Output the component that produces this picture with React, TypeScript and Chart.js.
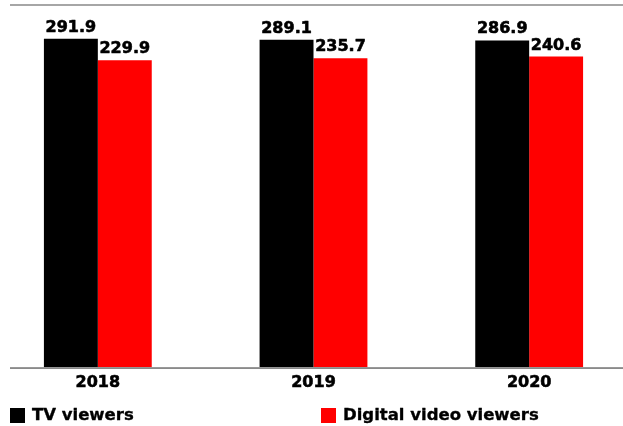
import React, { useEffect, useRef } from "react";
import { Chart, registerables } from "chart.js";

Chart.register(...registerables);

const categories = ["2018", "2019", "2020"];
const seriesNames = ["TV viewers", "Digital video viewers"];
const tvViewers = [291.9, 289.1, 286.9];
const digitalViewers = [229.9, 235.7, 240.6];
const seriesColors = ["#000000", "#ff0000"];

const Y_MIN = -651.6;
const Y_MAX = 345.5;
const FONT = "'DejaVu Sans', sans-serif";
const SHIFT = 10; // canvas starts 10px left of the page edge

const decorPlugin = {
  id: "decor",
  afterDatasetsDraw(chart: any) {
    const { ctx, chartArea } = chart;
    ctx.save();
    // data labels
    ctx.font = `bold 16px ${FONT}`;
    ctx.fillStyle = "#000";
    ctx.strokeStyle = "#000";
    ctx.lineWidth = 0.6;
    ctx.lineJoin = "round";
    ctx.textAlign = "center";
    ctx.textBaseline = "alphabetic";
    chart.data.datasets.forEach((ds: any, i: number) => {
      const meta = chart.getDatasetMeta(i);
      meta.data.forEach((el: any, j: number) => {
        const t = String(ds.data[j].toFixed(1));
        ctx.fillText(t, el.x, el.y - 7);
        ctx.strokeText(t, el.x, el.y - 7);
      });
    });
    // baseline
    ctx.fillStyle = "#6e6e6e";
    ctx.fillRect(SHIFT + 10, chartArea.bottom, chart.width, 1.5);
    // top rule
    ctx.fillStyle = "#a6a6a6";
    ctx.fillRect(SHIFT + 10, 4, chart.width, 2);
    // legend
    const legendX = [10, 321];
    ctx.lineWidth = 0.35;
    chart.data.datasets.forEach((ds: any, i: number) => {
      const x = legendX[i] + SHIFT;
      ctx.fillStyle = ds.backgroundColor;
      ctx.fillRect(x, 408, 15, 15);
      ctx.fillStyle = "#000";
      ctx.font = `bold 16.5px ${FONT}`;
      ctx.textAlign = "left";
      ctx.textBaseline = "middle";
      ctx.fillText(ds.label, x + 22, 416);
      ctx.strokeText(ds.label, x + 22, 416);
    });
    ctx.restore();
  },
};

export default function App() {
  const ref = useRef<HTMLCanvasElement | null>(null);
  useEffect(() => {
    if (!ref.current) return;
    const chart = new Chart(ref.current, {
      type: "bar",
      data: {
        labels: categories,
        datasets: [
          {
            label: seriesNames[0],
            data: tvViewers,
            backgroundColor: seriesColors[0],
            base: Y_MIN,
            categoryPercentage: 0.5,
            barPercentage: 1,
          } as any,
          {
            label: seriesNames[1],
            data: digitalViewers,
            backgroundColor: seriesColors[1],
            base: Y_MIN,
            categoryPercentage: 0.5,
            barPercentage: 1,
          } as any,
        ],
      },
      options: {
        responsive: false,
        animation: false,
        devicePixelRatio: 1,
        layout: { padding: { left: 0, right: 0, top: 20, bottom: 27.5 } },
        plugins: {
          legend: { display: false },
          tooltip: { enabled: false },
        },
        scales: {
          x: {
            grid: { display: false, drawTicks: false },
            border: { display: false },
            ticks: {
              color: "#000",
              font: { family: FONT, weight: "bold", size: 16 },
              padding: 6,
              textStrokeColor: "#000",
              textStrokeWidth: 0.6,
            } as any,
          },
          y: {
            display: false,
            min: Y_MIN,
            max: Y_MAX,
          },
        },
      },
      plugins: [decorPlugin],
    });
    return () => chart.destroy();
  }, []);

  return (
    <div
      style={{
        position: "fixed",
        left: 0,
        top: 0,
        width: 623,
        height: 426,
        overflow: "hidden",
        background: "#fff",
      }}
    >
      <canvas
        ref={ref}
        width={647}
        height={426}
        style={{ position: "absolute", left: -SHIFT, top: 0, display: "block" }}
      />
    </div>
  );
}
